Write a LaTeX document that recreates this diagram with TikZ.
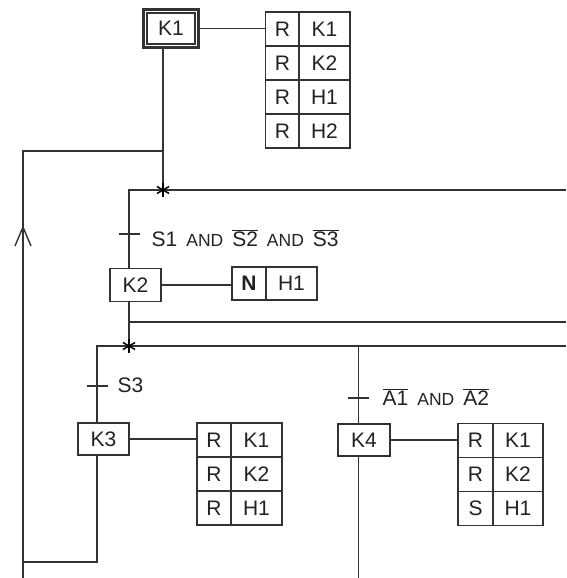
\documentclass[tikz,border=0pt]{standalone}
\usepackage{fontspec}
\setmainfont{Liberation Sans}
\usetikzlibrary{fit}
\definecolor{cline}{HTML}{333333}
\definecolor{ctext}{HTML}{222222}
\tikzset{
  every picture/.style={font=\fontsize{21}{25}\selectfont, text=ctext, line width=1.3pt, x=1pt, y=-1pt},
  stepbox/.style={draw=cline, minimum width=51pt, minimum height=33pt, inner sep=0pt},
  cell/.style={draw=cline, minimum width=#1, minimum height=34pt, inner sep=0pt},
  cell/.default=34pt,
  wire/.style={draw=cline, line width=1.4pt},
  cond/.style={anchor=base west, inner sep=0pt},
}
\newcommand{\nbar}[1]{$\overline{\mbox{#1}}$}
\newcommand{\andw}{{\fontsize{17.5}{20}\selectfont AND}}

\begin{document}
\begin{tikzpicture}
  \useasboundingbox (0,0) rectangle (566,578);
  % steps
  \node[stepbox, minimum width=48pt, minimum height=31pt] (k1) at (171,28.5) {K1};
  \node[draw=cline, line width=2.8pt, fit=(k1), inner sep=3pt] (k1f) {};
  \node[stepbox] (k2) at (135.5,285) {K2};
  \node[stepbox, minimum height=32pt] (k3) at (103.5,439) {K3};
  \node[stepbox, minimum width=52pt, minimum height=32pt] (k4) at (364,440) {K4};

  % actions
  \foreach \q/\v [count=\i] in {R/K1, R/K2, R/H1, R/H2} {
    \node[cell] (a1q\i) at (282.5,{-5+34*\i}) {\q};
    \node[cell=51pt] (a1v\i) at (324.5,{-5+34*\i}) {\v};
  }
  \node[cell, minimum height=33pt] (a2q) at (249,283.5) {\textbf{N}};
  \node[cell=51pt, minimum height=33pt] (a2v) at (291.5,283.5) {H1};
  \foreach \q/\v [count=\i] in {R/K1, R/K2, R/H1} {
    \node[cell] (a3q\i) at (214,{406+34*\i}) {\q};
    \node[cell=51pt] (a3v\i) at (256.5,{406+34*\i}) {\v};
  }
  \foreach \q/\v [count=\i] in {R/K1, R/K2, S/H1} {
    \node[cell=35pt] (a4q\i) at (475.5,{406.5+34*\i}) {\q};
    \node[cell=50pt] (a4v\i) at (518,{406.5+34*\i}) {\v};
  }

  % junctions, ticks and free ends
  \coordinate (j1) at (163,190);
  \coordinate (j2) at (129,346);
  \coordinate (t1) at (129,234);
  \coordinate (t2) at (97,386);
  \coordinate (t3) at (358.5,398);
  \coordinate (lp) at (23,151);
  \coordinate (lb) at (23,562);
  \coordinate (ret) at (23,578);
  \coordinate (up) at (23,227);
  \coordinate (e1) at (566,190);
  \coordinate (e2) at (566,322);
  \coordinate (e3) at (566,346);
  \coordinate (e4) at (358.5,578);

  % links
  \draw[wire] (k1f.east) -- (k1f.east -| a1q1.west);
  \draw[wire] (k1f.south -| j1) -- (j1);
  \draw[wire] (j1 |- lp) -- (lp) -- (ret);
  \draw[wire] (up) ++(-8,19) -- (up) -- ++(8,19);
  \draw[wire] (j1) -- (e1);
  \draw[wire] (j1) -| (k2.north -| t1);
  \draw[wire] (k2.east) -- (k2.east -| a2q.west);
  \draw[wire] (k2.south -| j2) -- (j2);
  \draw[wire] (e2 -| j2) -- (e2);
  \draw[wire] (j2) -- (e3);
  \draw[wire] (j2) -| (k3.north -| t2);
  \draw[wire] (k3.east) -- (k3.east -| a3q1.west);
  \draw[wire] (k3.south -| t2) |- (lb);
  \draw[wire] (e3 -| t3) -- (k4.north -| t3);
  \draw[wire] (k4.south -| t3) -- (e4);
  \draw[wire] (k4.east) -- (k4.east -| a4q1.west);

  % transitions
  \foreach \t in {t1, t2, t3} \draw[wire] (\t) ++(-10.5,0) -- ++(21,0);
  \node[cond] (c1) at (151,246) {S1\hspace{9pt}\andw\hspace{9pt}\nbar{S2}\hspace{9pt}\andw\hspace{9pt}\nbar{S3}};
  \node[cond] (c2) at (117,392) {S3};
  \node[cond] (c3) at (382,405) {\nbar{A1}\hspace{9pt}\andw\hspace{9pt}\nbar{A2}};

  % junction marks
  \foreach \c in {j1, j2}
    \foreach \a in {90, 30, 150}
      \draw[draw=black, line width=1.5pt] (\c) ++(\a:7) -- ++(\a+180:14);
\end{tikzpicture}
\end{document}
